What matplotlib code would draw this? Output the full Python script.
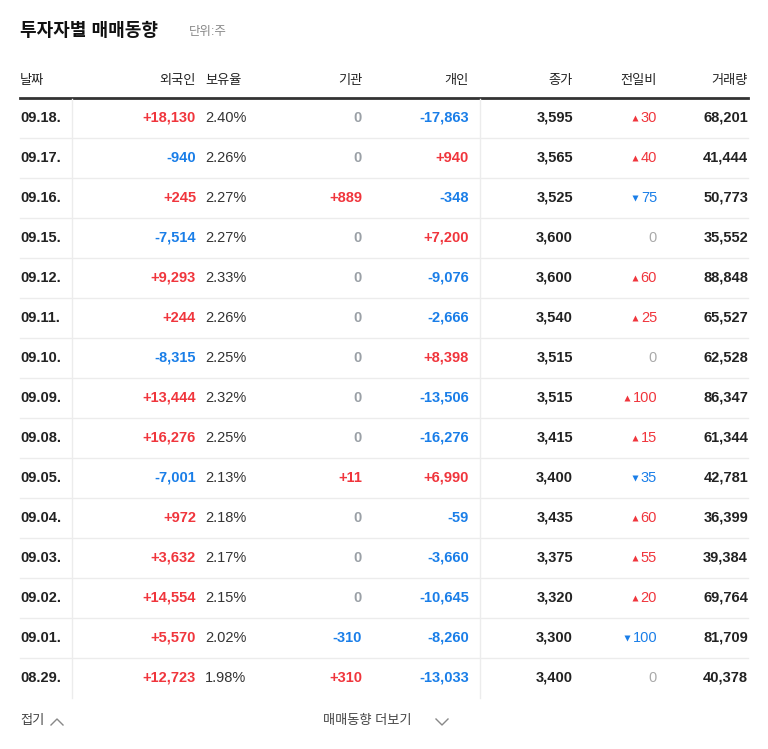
import matplotlib.pyplot as plt
import matplotlib as mpl

mpl.rcParams['font.family'] = ['Liberation Sans', 'Noto Sans CJK KR', 'Noto Sans CJK JP', 'DejaVu Sans']

# ====================== Données ====================== #
dates    = ['09.18.', '09.17.', '09.16.', '09.15.', '09.12.', '09.11.', '09.10.', '09.09.',
            '09.08.', '09.05.', '09.04.', '09.03.', '09.02.', '09.01.', '08.29.']
foreign  = [18130, -940, 245, -7514, 9293, 244, -8315, 13444, 16276, -7001, 972, 3632, 14554, 5570, 12723]
ratio    = [2.40, 2.26, 2.27, 2.27, 2.33, 2.26, 2.25, 2.32, 2.25, 2.13, 2.18, 2.17, 2.15, 2.02, 1.98]
inst     = [0, 0, 889, 0, 0, 0, 0, 0, 0, 11, 0, 0, 0, -310, 310]
indiv    = [-17863, 940, -348, 7200, -9076, -2666, 8398, -13506, -16276, 6990, -59, -3660, -10645, -8260, -13033]
close    = [3595, 3565, 3525, 3600, 3600, 3540, 3515, 3515, 3415, 3400, 3435, 3375, 3320, 3300, 3400]
change   = [30, 40, -75, 0, 60, 25, 0, 100, 15, -35, 60, 55, 20, -100, 0]
volume   = [68201, 41444, 50773, 35552, 88848, 65527, 62528, 86347, 61344, 42781, 36399, 39384, 69764, 81709, 40378]
headers  = ['날짜', '외국인', '보유율', '기관', '개인', '종가', '전일비', '거래량']

RED, BLUE, GRAY, DARK = '#f0353c', '#1a7ee8', '#9aa0a6', '#222222'

def signed(v):
    if v > 0:
        return f'+{v:,}', RED
    if v < 0:
        return f'{v:,}', BLUE
    return '0', GRAY

# ====================== Figure ====================== #
fig = plt.figure(figsize=(7.68, 7.49), dpi=100)
ax = fig.add_axes([0, 0, 1, 1])
ax.set_xlim(0, 768)
ax.set_ylim(749, 0)
ax.axis('off')

fs = 10.5
ax.text(20, 31, '투자자별 매매동향', fontsize=13, fontweight='bold', color='#111111', va='center')
ax.text(189, 32, '단위:주', fontsize=9, color='#888888', va='center')

# En-têtes
hy = 81
hfs = 9.5
ax.text(20, hy, headers[0], fontsize=hfs, va='center', color=DARK)
ax.text(196, hy, headers[1], fontsize=hfs, va='center', ha='right', color=DARK)
ax.text(205, hy, headers[2], fontsize=hfs, va='center', color=DARK)
for x, h in zip([362, 469, 573, 657, 748], headers[3:]):
    ax.text(x, hy, h, fontsize=hfs, va='center', ha='right', color=DARK)

ax.plot([20, 748], [98, 98], color='#333333', lw=2)
ax.plot([72, 72], [99, 698], color='#ececec', lw=1)
ax.plot([480, 480], [99, 698], color='#ececec', lw=1)

for i in range(len(dates)):
    y = 118 + 40 * i
    if i < len(dates) - 1:
        ax.plot([20, 748], [y + 20, y + 20], color='#ececec', lw=1)
    ax.text(20, y, dates[i], fontsize=fs, fontweight='bold', va='center', color=DARK)
    s, c = signed(foreign[i])
    ax.text(196, y, s, fontsize=fs, fontweight='bold', va='center', ha='right', color=c)
    ax.text(205, y, f'{ratio[i]:.2f}%', fontsize=fs, va='center', color='#333333')
    s, c = signed(inst[i])
    ax.text(362, y, s, fontsize=fs, fontweight='bold', va='center', ha='right', color=c)
    s, c = signed(indiv[i])
    ax.text(469, y, s, fontsize=fs, fontweight='bold', va='center', ha='right', color=c)
    ax.text(573, y, f'{close[i]:,}', fontsize=fs, fontweight='bold', va='center', ha='right', color=DARK)
    ch = change[i]
    if ch != 0:
        c = RED if ch > 0 else BLUE
        ax.text(657, y, f'{abs(ch)}', fontsize=fs, va='center', ha='right', color=c)
        tx = 657 - 8.1 * len(str(abs(ch))) - 6
        ax.plot(tx, y - 0.5, marker='^' if ch > 0 else 'v', ms=5, color=c, mec='none')
    else:
        ax.text(657, y, '0', fontsize=fs, va='center', ha='right', color='#aaaaaa')
    ax.text(748, y, f'{volume[i]:,}', fontsize=fs, fontweight='bold', va='center', ha='right', color=DARK)

ax.text(20, 721, '접기', fontsize=hfs, va='center', color='#444444')
ax.plot([51, 57, 63], [725, 719, 725], color='#888888', lw=1)
ax.text(323, 721, '매매동향 더보기', fontsize=hfs, va='center', color='#444444')
ax.plot([436, 442, 448], [719, 725, 719], color='#888888', lw=1)

fig.savefig('out.png', dpi=100, facecolor='white')
